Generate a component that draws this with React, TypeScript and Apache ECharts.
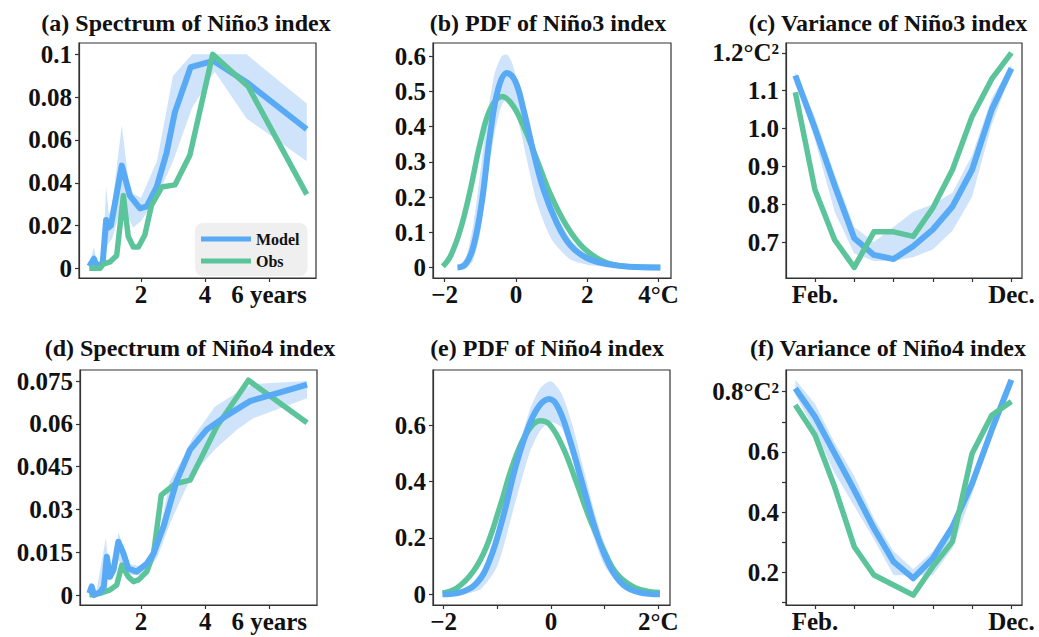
import React, { useEffect, useRef } from 'react';
import * as echarts from 'echarts';

// ---------- colours ----------
const BLUE = '#58aaf5';
const GREEN = '#5cc49b';
const BAND = '#cfe4fa';
const INK = '#111111';
const AXIS = '#333333';
const FONT = '"Liberation Serif", "Times New Roman", serif';

// ---------- titles ----------
const titles = [
  '(a) Spectrum of Niño3 index',
  '(b) PDF of Niño3 index',
  '(c) Variance of Niño3 index',
  '(d) Spectrum of Niño4 index',
  '(e) PDF of Niño4 index',
  '(f) Variance of Niño4 index',
];

// ---------- (a) spectrum Niño3 ----------
const aModelX = [0.385, 0.53, 0.62, 0.8, 0.91, 0.98, 1.06, 1.4, 1.65, 1.97, 2.18, 2.49, 2.8, 3.06, 3.55, 4.26, 5.3, 7.18];
const aModelY = [0.001, 0.0045, 0.001, 0.002, 0.0226, 0.019, 0.02, 0.048, 0.034, 0.028, 0.029, 0.038, 0.054, 0.073, 0.094, 0.097, 0.087, 0.065];
const aObsX = [0.385, 0.72, 0.82, 1.03, 1.24, 1.45, 1.6, 1.76, 1.92, 2.12, 2.33, 2.65, 3.06, 3.53, 4.24, 5.35, 7.18];
const aObsY = [0, 0, 0.002, 0.003, 0.006, 0.034, 0.015, 0.01, 0.01, 0.0156, 0.0296, 0.038, 0.039, 0.053, 0.1, 0.085, 0.0346];
const aBandX = [0.385, 0.53, 0.62, 0.8, 0.91, 1.0, 1.1, 1.4, 1.6, 1.75, 2.0, 2.5, 3.0, 3.6, 4.3, 5.3, 7.18];
const aBandHi = [0.002, 0.01, 0.003, 0.004, 0.038, 0.025, 0.03, 0.067, 0.042, 0.035, 0.033, 0.05, 0.09, 0.1, 0.1, 0.1, 0.077];
const aBandLo = [0, 0, 0, 0, 0.01, 0.012, 0.014, 0.03, 0.024, 0.019, 0.022, 0.033, 0.05, 0.075, 0.092, 0.07, 0.05];
const aXTicks = [2, 4, 6];
const aXLabels = ['2', '4', '6 years'];
const aYTicks = [0, 0.02, 0.04, 0.06, 0.08, 0.1];
const aYLabels = ['0', '0.02', '0.04', '0.06', '0.08', '0.1'];

// ---------- (b) PDF Niño3 ----------
const bModelX = [-1.64, -1.42, -1.19, -0.95, -0.72, -0.49, -0.25, -0.02, 0.21, 0.5, 0.78, 1.15, 1.52, 1.99, 2.64, 3.39, 4.05];
const bModelY = [0, 0.008, 0.06, 0.19, 0.38, 0.51, 0.553, 0.53, 0.45, 0.325, 0.22, 0.126, 0.064, 0.027, 0.008, 0.001, 0];
const bObsX = [-2.05, -1.84, -1.56, -1.28, -1.0, -0.72, -0.39, -0.07, 0.26, 0.59, 0.96, 1.43, 1.9, 2.46, 3.11, 4.05];
const bObsY = [0.003, 0.031, 0.107, 0.22, 0.354, 0.45, 0.486, 0.458, 0.39, 0.306, 0.21, 0.117, 0.055, 0.017, 0.003, 0];
const bBandX = [-1.64, -1.4, -1.2, -1.0, -0.8, -0.6, -0.4, -0.25, -0.1, 0.1, 0.3, 0.6, 1.0, 1.5, 2.0, 2.6, 3.4, 4.05];
const bBandHi = [0, 0.03, 0.12, 0.27, 0.43, 0.55, 0.6, 0.605, 0.58, 0.5, 0.42, 0.3, 0.18, 0.085, 0.035, 0.012, 0.002, 0];
const bBandLo = [0, 0, 0.02, 0.1, 0.25, 0.38, 0.46, 0.48, 0.46, 0.4, 0.31, 0.18, 0.08, 0.025, 0.008, 0.002, 0, 0];
const bXTicks = [-2, 0, 2, 4];
const bXLabels = ['\u22122', '0', '2', '4°C'];
const bYTicks = [0, 0.1, 0.2, 0.3, 0.4, 0.5, 0.6];
const bYLabels = ['0', '0.1', '0.2', '0.3', '0.4', '0.5', '0.6'];

// ---------- (c) variance Niño3 ----------
const months = [1, 2, 3, 4, 5, 6, 7, 8, 9, 10, 11, 12];
const cModel = [1.14, 1.0, 0.85, 0.71, 0.666, 0.655, 0.689, 0.733, 0.794, 0.891, 1.05, 1.159];
const cObs = [1.096, 0.838, 0.706, 0.633, 0.727, 0.727, 0.715, 0.79, 0.891, 1.032, 1.131, 1.2];
const cBandHi = [1.15, 1.03, 0.88, 0.74, 0.7, 0.74, 0.78, 0.8, 0.83, 0.93, 1.08, 1.17];
const cBandLo = [1.13, 0.97, 0.78, 0.67, 0.65, 0.65, 0.66, 0.68, 0.73, 0.82, 1.01, 1.15];
const monthTicks = [2, 4, 6, 8, 10, 12];
const monthLabels = ['Feb.', '', '', '', '', 'Dec.'];
const cYTicks = [0.7, 0.8, 0.9, 1.0, 1.1, 1.2];
const cYLabels = ['0.7', '0.8', '0.9', '1.0', '1.1', '1.2°C²'];

// ---------- (d) spectrum Niño4 ----------
const dModelX = [0.385, 0.46, 0.53, 0.72, 0.84, 0.93, 1.03, 1.14, 1.29, 1.45, 1.6, 1.86, 2.18, 2.39, 2.7, 3.11, 3.53, 4.05, 4.68, 5.4, 7.18];
const dModelY = [0.0006, 0.003, 0, 0.001, 0.003, 0.0134, 0.0064, 0.0088, 0.0187, 0.0146, 0.0093, 0.0082, 0.011, 0.0146, 0.024, 0.04, 0.051, 0.058, 0.063, 0.068, 0.0738];
const dObsX = [0.385, 0.72, 1.03, 1.24, 1.4, 1.6, 1.76, 1.92, 2.18, 2.39, 2.63, 3.06, 3.53, 3.95, 4.36, 5.35, 7.18];
const dObsY = [0, 0.0006, 0.0018, 0.0035, 0.0105, 0.0064, 0.0047, 0.0053, 0.0082, 0.0146, 0.035, 0.039, 0.0403, 0.0497, 0.059, 0.0753, 0.0604];
const dBandX = [0.385, 0.5, 0.6, 0.9, 1.0, 1.1, 1.3, 1.6, 2.0, 2.5, 2.9, 3.3, 3.6, 4.3, 5.0, 5.5, 7.18];
const dBandHi = [0.002, 0.004, 0.001, 0.02, 0.009, 0.01, 0.022, 0.011, 0.01, 0.018, 0.04, 0.048, 0.055, 0.066, 0.071, 0.074, 0.075];
const dBandLo = [0, 0, 0, 0.006, 0.005, 0.006, 0.012, 0.007, 0.007, 0.013, 0.025, 0.035, 0.042, 0.051, 0.058, 0.062, 0.069];
const dYTicks = [0, 0.015, 0.03, 0.045, 0.06, 0.075];
const dYLabels = ['0', '0.015', '0.03', '0.045', '0.06', '0.075'];

// ---------- (e) PDF Niño4 ----------
const eModelX = [-2.02, -1.7, -1.385, -1.14, -0.89, -0.64, -0.39, -0.2, -0.03, 0.14, 0.35, 0.6, 0.85, 1.1, 1.35, 1.66, 2.03];
const eModelY = [0, 0.006, 0.039, 0.122, 0.276, 0.465, 0.607, 0.672, 0.692, 0.66, 0.548, 0.382, 0.217, 0.098, 0.033, 0.006, 0];
const eObsX = [-2.02, -1.76, -1.45, -1.2, -0.95, -0.7, -0.45, -0.2, -0.02, 0.23, 0.48, 0.73, 0.98, 1.22, 1.53, 1.84, 2.03];
const eObsY = [0.004, 0.021, 0.08, 0.169, 0.311, 0.465, 0.572, 0.615, 0.601, 0.518, 0.394, 0.264, 0.157, 0.075, 0.027, 0.009, 0.006];
const eBandX = [-2.02, -1.6, -1.3, -1.0, -0.7, -0.4, -0.2, 0, 0.2, 0.4, 0.6, 0.8, 1.0, 1.3, 1.6, 2.03];
const eBandHi = [0.002, 0.02, 0.08, 0.22, 0.45, 0.65, 0.73, 0.755, 0.71, 0.6, 0.45, 0.3, 0.18, 0.06, 0.015, 0.002];
const eBandLo = [0, 0.002, 0.02, 0.1, 0.3, 0.5, 0.58, 0.61, 0.59, 0.48, 0.33, 0.2, 0.1, 0.03, 0.005, 0];
const eXTicks = [-2, -1, 0, 1, 2];
const eXLabels = ['\u22122', '', '0', '', '2°C'];
const eYTicks = [0, 0.2, 0.4, 0.6];
const eYLabels = ['0', '0.2', '0.4', '0.6'];

// ---------- (f) variance Niño4 ----------
const fModel = [0.811, 0.717, 0.595, 0.473, 0.346, 0.235, 0.18, 0.246, 0.351, 0.495, 0.673, 0.839];
const fObs = [0.756, 0.656, 0.484, 0.285, 0.191, 0.158, 0.124, 0.219, 0.302, 0.595, 0.722, 0.767];
const fBandHi = [0.84, 0.76, 0.63, 0.52, 0.38, 0.27, 0.21, 0.27, 0.37, 0.52, 0.7, 0.84];
const fBandLo = [0.79, 0.67, 0.53, 0.42, 0.31, 0.19, 0.19, 0.19, 0.28, 0.46, 0.66, 0.83];
const fYTicks = [0.1, 0.2, 0.3, 0.4, 0.5, 0.6, 0.7, 0.8];
const fYLabels = ['', '0.2', '', '0.4', '', '0.6', '', '0.8°C²'];

// ---------- helpers ----------
const zip = (xs: number[], ys: number[]) => xs.map((x, i) => [x, ys[i]]);

const fmt = (ticks: number[], labels: string[]) => (v: number) => {
  const i = ticks.findIndex((t) => Math.abs(t - v) < 1e-6);
  return i >= 0 ? labels[i] : '';
};

const lineStyleAxis = { color: AXIS, width: 1.2 };
const LABEL_SIZE = 25;

function makeAxis(gi: number, min: number, max: number, ticks: number[], tickLabels: string[], labelTicks: number[] | null, isX: boolean) {
  return {
    type: 'value',
    gridIndex: gi,
    min,
    max,
    axisLine: { show: true, onZero: false, lineStyle: lineStyleAxis },
    axisTick: { show: true, length: 4, customValues: ticks, lineStyle: lineStyleAxis },
    axisLabel: {
      customValues: labelTicks || ticks,
      formatter: fmt(ticks, tickLabels),
      margin: isX ? 4 : 7,
      fontSize: LABEL_SIZE,
      fontWeight: 'bold',
      fontFamily: FONT,
      color: INK,
    },
    splitLine: { show: false },
  };
}

function band(gi: number, xs: number[], hi: number[], lo: number[], smooth: number) {
  return {
    type: 'custom',
    xAxisIndex: gi,
    yAxisIndex: gi,
    silent: true,
    z: 1,
    data: [[xs[0], lo[0]]],
    renderItem: (_params: any, api: any) => {
      const pts: number[][] = [];
      for (let i = 0; i < xs.length; i++) pts.push(api.coord([xs[i], hi[i]]));
      for (let i = xs.length - 1; i >= 0; i--) pts.push(api.coord([xs[i], lo[i]]));
      return { type: 'polygon', shape: { points: pts, smooth }, style: { fill: BAND } };
    },
  };
}

function line(gi: number, name: string, data: number[][], color: string, width: number, smooth: number | boolean, z: number) {
  return {
    type: 'line',
    name,
    xAxisIndex: gi,
    yAxisIndex: gi,
    data,
    showSymbol: false,
    symbol: 'none',
    smooth,
    z,
    itemStyle: { color },
    lineStyle: { color, width, join: 'round', cap: 'butt' },
    silent: true,
  };
}

const grids = [
  { left: 79, top: 43, width: 237, height: 235 },
  { left: 433, top: 43, width: 238, height: 235 },
  { left: 786, top: 43, width: 236, height: 235 },
  { left: 80, top: 370, width: 237, height: 235 },
  { left: 433, top: 370, width: 237, height: 235 },
  { left: 786, top: 370, width: 236, height: 235 },
];

const titlePos = [
  [186, 23], [548, 23], [888, 23],
  [190, 348], [547, 348], [888, 348],
];

export default function App() {
  const ref = useRef<HTMLDivElement>(null);

  useEffect(() => {
    if (!ref.current) return;
    const chart = echarts.init(ref.current, undefined, { renderer: 'svg' });

    const option: any = {
      animation: false,
      backgroundColor: '#ffffff',
      textStyle: { fontFamily: FONT },
      grid: grids.map((g) => ({ ...g, show: true, borderColor: AXIS, borderWidth: 1.2, backgroundColor: 'transparent' })),
      xAxis: [
        makeAxis(0, 0.0625, 7.47, aXTicks, aXLabels, null, true),
        makeAxis(1, -2.325, 4.35, bXTicks, bXLabels, null, true),
        makeAxis(2, 0.526, 12.54, monthTicks, monthLabels, null, true),
        makeAxis(3, 0.094, 7.49, aXTicks, aXLabels, null, true),
        makeAxis(4, -2.197, 2.218, eXTicks, eXLabels, null, true),
        makeAxis(5, 0.526, 12.54, monthTicks, monthLabels, null, true),
      ],
      yAxis: [
        makeAxis(0, -0.0045, 0.1053, aYTicks, aYLabels, null, false),
        makeAxis(1, -0.03, 0.638, bYTicks, bYLabels, null, false),
        makeAxis(2, 0.605, 1.226, cYTicks, cYLabels, null, false),
        makeAxis(3, -0.0035, 0.0789, dYTicks, dYLabels, null, false),
        makeAxis(4, -0.038, 0.795, eYTicks, eYLabels, null, false),
        makeAxis(5, 0.0914, 0.872, fYTicks, fYLabels, [0.2, 0.4, 0.6, 0.8], false),
      ],
      legend: {
        data: ['Model', 'Obs'],
        orient: 'vertical',
        left: 195,
        top: 223,
        icon: 'rect',
        itemWidth: 50,
        itemHeight: 5,
        itemGap: 6,
        padding: [8, 8, 7, 6],
        backgroundColor: 'rgba(238,238,238,0.95)',
        borderRadius: 8,
        borderWidth: 0,
        selectedMode: false,
        textStyle: { fontFamily: FONT, fontWeight: 'bold', fontSize: 16, color: INK },
      },
      series: [
        band(0, aBandX, aBandHi, aBandLo, 0),
        line(0, 'Model', zip(aModelX, aModelY), BLUE, 6, false, 3),
        line(0, 'Obs', zip(aObsX, aObsY), GREEN, 5.5, false, 4),

        band(1, bBandX, bBandHi, bBandLo, 0.25),
        line(1, 'Obs', zip(bObsX, bObsY), GREEN, 5.5, 0.4, 3),
        line(1, 'Model', zip(bModelX, bModelY), BLUE, 6, 0.4, 4),

        band(2, months, cBandHi, cBandLo, 0),
        line(2, 'Model', zip(months, cModel), BLUE, 6, false, 3),
        line(2, 'Obs', zip(months, cObs), GREEN, 5.5, false, 4),

        band(3, dBandX, dBandHi, dBandLo, 0),
        line(3, 'Obs', zip(dObsX, dObsY), GREEN, 5.5, false, 3),
        line(3, 'Model', zip(dModelX, dModelY), BLUE, 6, false, 4),

        band(4, eBandX, eBandHi, eBandLo, 0.25),
        line(4, 'Obs', zip(eObsX, eObsY), GREEN, 5.5, 0.4, 3),
        line(4, 'Model', zip(eModelX, eModelY), BLUE, 6, 0.4, 4),

        band(5, months, fBandHi, fBandLo, 0),
        line(5, 'Model', zip(months, fModel), BLUE, 6, false, 3),
        line(5, 'Obs', zip(months, fObs), GREEN, 5.5, false, 4),
      ],
      graphic: titles.map((t, i) => ({
        type: 'text',
        x: titlePos[i][0],
        y: titlePos[i][1],
        silent: true,
        style: {
          text: t,
          fontFamily: FONT,
          fontWeight: 'bold',
          fontSize: 24,
          fill: INK,
          textAlign: 'center',
          textVerticalAlign: 'middle',
        },
      })),
    };

    chart.setOption(option);
    return () => chart.dispose();
  }, []);

  return (
    <div
      ref={ref}
      style={{ position: 'fixed', left: 0, top: 0, width: 1039, height: 637, background: '#fff' }}
    />
  );
}
